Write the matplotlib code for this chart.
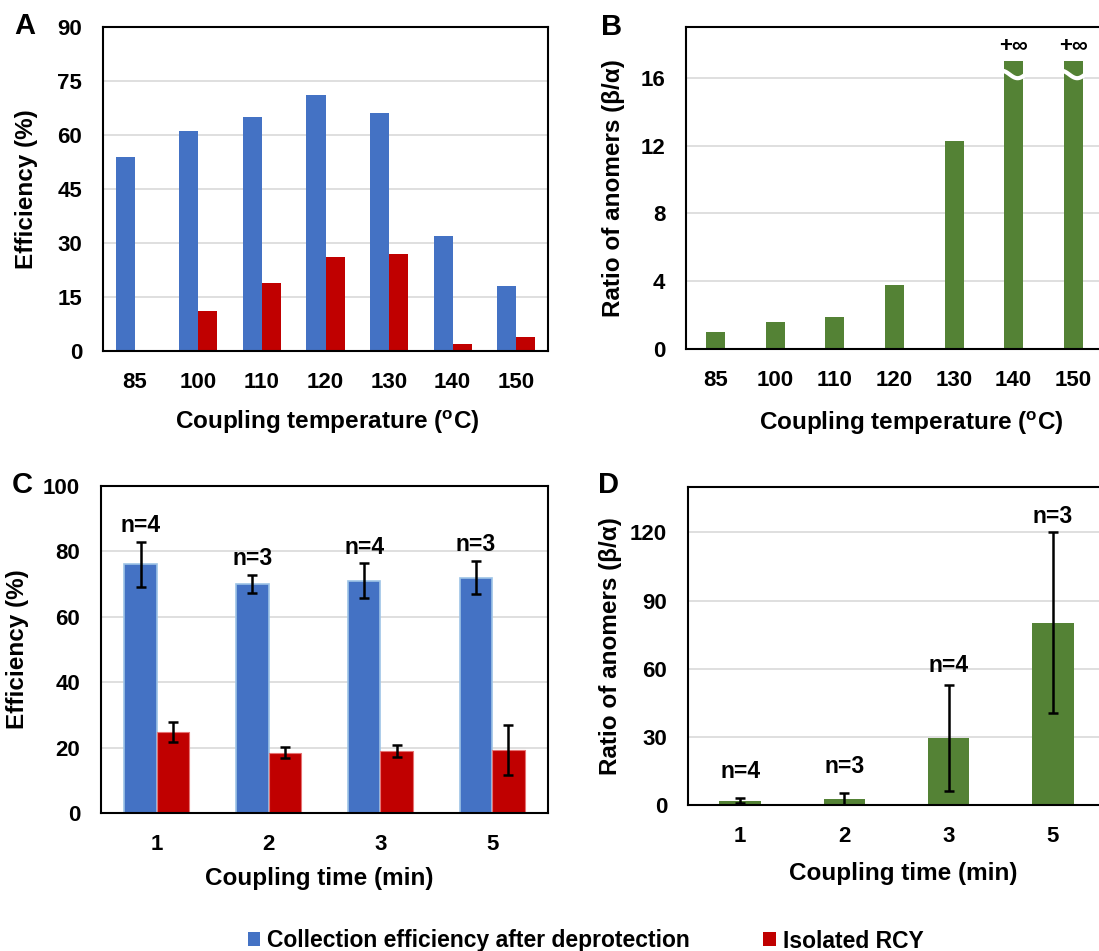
import numpy as np
import matplotlib
matplotlib.use("Agg")
import matplotlib.pyplot as plt
from matplotlib.patches import Patch

plt.rcParams['font.family'] = ['Liberation Sans', 'DejaVu Sans']
plt.rcParams['font.weight'] = 'bold'
plt.rcParams['axes.labelweight'] = 'bold'
plt.rcParams['mathtext.default'] = 'regular'

# ---- data -------------------------------------------------------------
temperatures = ['85', '100', '110', '120', '130', '140', '150']
collection_by_temp = [54, 61, 65, 71, 66, 32, 18]
rcy_by_temp = [0, 11, 19, 26, 27, 2, 4]
ratio_by_temp = [1.0, 1.6, 1.9, 3.8, 12.3, np.inf, np.inf]

times = ['1', '2', '3', '5']
collection_by_time = [76, 70, 71, 72]
collection_err = [7.0, 2.7, 5.3, 5.1]
rcy_by_time = [24.8, 18.5, 19.0, 19.2]
rcy_err = [3.0, 1.7, 1.9, 7.6]
ratio_by_time = [1.9, 2.6, 29.4, 80.3]
ratio_err = [1.0, 2.5, 23.3, 40.0]
n_runs = [4, 3, 4, 3]

series_labels = ['Collection efficiency after deprotection', 'Isolated RCY']

BLUE = '#4472C4'
RED = '#C00000'
GREEN = '#548235'
GRID = '#D9D9D9'
TICK_FS = 16
LABEL_FS = 17.5

W, H = 1099, 951
fig = plt.figure(figsize=(W / 100, H / 100), dpi=100)


def px_axes(x0, y0, x1, y1):
    return fig.add_axes([x0 / W, 1 - y1 / H, (x1 - x0) / W, (y1 - y0) / H])


def style(ax, ylim, yticks, ncat, xticklabels):
    ax.set_ylim(*ylim)
    ax.set_yticks(yticks)
    ax.set_xlim(-0.5, ncat - 0.5)
    ax.set_xticks(range(ncat))
    ax.set_xticklabels(xticklabels)
    ax.tick_params(axis='both', length=0, pad=15, labelsize=TICK_FS)
    ax.grid(axis='y', color=GRID, linewidth=1.2)
    ax.set_axisbelow(True)
    for s in ax.spines.values():
        s.set_color('black')
        s.set_linewidth(1.5)
        s.set_zorder(5)


def place_labels(ax, xl, yl, xpos, ypos):
    ax.set_xlabel(xl, fontsize=LABEL_FS)
    ax.set_ylabel(yl, fontsize=LABEL_FS)
    ax.xaxis.label.set_verticalalignment('center')
    ax.yaxis.label.set_verticalalignment('center')
    ax.xaxis.set_label_coords(*xpos)
    ax.yaxis.set_label_coords(ypos, 0.5)


temp_xlabel = r'Coupling temperature ($\mathregular{^o}$C)'
ratio_ylabel = 'Ratio of anomers (β/α)'

# ---- A: efficiency vs temperature --------------------------------------
axA = px_axes(103, 27, 548, 351)
xt = np.arange(len(temperatures))
wA = 0.30
axA.bar(xt - wA / 2, collection_by_temp, wA, color=BLUE)
axA.bar(xt + wA / 2, rcy_by_temp, wA, color=RED)
style(axA, (0, 90), range(0, 91, 15), len(temperatures), temperatures)
place_labels(axA, temp_xlabel, 'Efficiency (%)', (0.503, -0.22), -0.173)

# ---- B: anomer ratio vs temperature ------------------------------------
axB = px_axes(686, 27, 1103, 349)
wB = 0.32
cap = 17.0
ratio_drawn = [min(v, cap) for v in ratio_by_temp]
axB.bar(xt, ratio_drawn, wB, color=GREEN)
style(axB, (0, 19), range(0, 17, 4), len(temperatures), temperatures)
place_labels(axB, temp_xlabel, ratio_ylabel, (0.54, -0.232), -0.175)
for i, v in enumerate(ratio_by_temp):
    if np.isinf(v):
        xs = np.linspace(i - wB / 2 - 0.04, i + wB / 2 + 0.04, 40)
        t = (xs - xs[0]) / (xs[-1] - xs[0])
        ys = 16.2 + 0.22 * np.cos(1.5 * np.pi * t)
        axB.plot(xs, ys, color='white', lw=3, zorder=4, solid_capstyle='butt')
        axB.annotate('+∞', (i, cap), xytext=(0, 3), textcoords='offset points',
                     ha='center', va='bottom', fontsize=16, fontweight='bold')

# ---- C: efficiency vs time ---------------------------------------------
axC = px_axes(101, 486, 548, 813)
xc = np.arange(len(times))
wC = 0.29
ekw = dict(ecolor='black', elinewidth=1.8, capsize=3.5, capthick=1.8)
axC.bar(xc - wC / 2, collection_by_time, wC, color=BLUE, edgecolor='#9DC3E6',
        linewidth=1.2, yerr=collection_err, error_kw=ekw)
axC.bar(xc + wC / 2, rcy_by_time, wC, color=RED, edgecolor='#E57373',
        linewidth=0.8, yerr=rcy_err, error_kw=ekw)
style(axC, (0, 100), range(0, 101, 20), len(times), times)
place_labels(axC, 'Coupling time (min)', 'Efficiency (%)', (0.488, -0.2), -0.186)
for i, (v, e, n) in enumerate(zip(collection_by_time, collection_err, n_runs)):
    axC.annotate(f'n={n}', (i - wC / 2, v + e), xytext=(0, 3.5),
                 textcoords='offset points', ha='center', va='bottom',
                 fontsize=16.5, fontweight='bold')

# ---- D: anomer ratio vs time -------------------------------------------
axD = px_axes(688, 487, 1105, 805)
wD = 0.40
axD.bar(xc, ratio_by_time, wD, color=GREEN, yerr=ratio_err, error_kw=ekw)
style(axD, (0, 140), range(0, 121, 30), len(times), times)
place_labels(axD, 'Coupling time (min)', ratio_ylabel, (0.516, -0.214), -0.187)
n_offsets = [11, 11, 6, 3]
for i, (v, e, n) in enumerate(zip(ratio_by_time, ratio_err, n_runs)):
    axD.annotate(f'n={n}', (i, v + e), xytext=(0, n_offsets[i]),
                 textcoords='offset points', ha='center', va='bottom',
                 fontsize=16.5, fontweight='bold')

# ---- panel letters -----------------------------------------------------
for letter, (px, py) in zip('ABCD', [(25, 26), (612, 27), (22, 485), (609, 485)]):
    fig.text(px / W, 1 - py / H, letter, ha='center', va='center',
             fontsize=21, fontweight='bold')

# ---- shared legend -----------------------------------------------------
handles = [Patch(facecolor=BLUE), Patch(facecolor=RED)]
fig.legend(handles, series_labels, loc='center', bbox_to_anchor=(0.533, 1 - 941 / H),
           ncol=2, frameon=False, fontsize=16.5, handlelength=0.55,
           handleheight=0.55, handletextpad=0.3, columnspacing=3.2,
           borderpad=0, borderaxespad=0)

fig.savefig('out.png', dpi=100)
